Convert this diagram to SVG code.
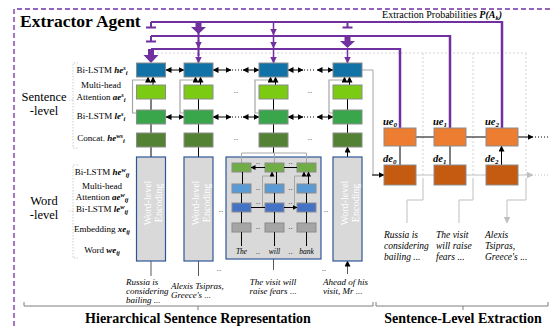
<svg xmlns="http://www.w3.org/2000/svg" width="550" height="326" viewBox="0 0 550 326">
<defs>
<marker id="ah" markerUnits="userSpaceOnUse" markerWidth="6" markerHeight="6" refX="5.5" refY="3" orient="auto-start-reverse"><path d="M0,0 L6,3 L0,6 z" fill="#000"/></marker>
<marker id="ahs" markerUnits="userSpaceOnUse" markerWidth="5" markerHeight="5" refX="4.5" refY="2.5" orient="auto-start-reverse"><path d="M0,0 L5,2.5 L0,5 z" fill="#000"/></marker>
<marker id="ahg" markerUnits="userSpaceOnUse" markerWidth="7" markerHeight="7" refX="6.5" refY="3.5" orient="auto-start-reverse"><path d="M0,0 L7,3.5 L0,7 z" fill="#bfbfbf"/></marker>
<marker id="ahp" markerUnits="userSpaceOnUse" markerWidth="7" markerHeight="7" refX="6.5" refY="3.5" orient="auto"><path d="M0,0 L7,3.5 L0,7 z" fill="#7030a0"/></marker>
</defs>
<style>
text{font-family:"Liberation Serif","Times New Roman",serif;fill:#000}
.lbl{font-size:9px;text-anchor:middle}
.bi{font-weight:bold;font-style:italic}
.sup{font-size:6.5px;font-weight:bold;font-style:italic}
.it{font-style:italic}
.in{font-size:9px;font-style:italic}
.dots{font-size:9px;text-anchor:middle;fill:#333}
.box{stroke:#8c8c8c;stroke-width:1}
.bl{fill:#1072a6}
.lg{fill:#7acb12}
.mg{fill:#3aa64c}
.dg{fill:#548235}
.or{fill:#ed7d31}
.dor{fill:#c55a11}
.wb{fill:#d9d9d9;stroke:#2f5597;stroke-width:1.2}
.wg{fill:#70ad47}
.wlb{fill:#5b9bd5}
.wbl{fill:#4472c4}
.wgr{fill:#a5a5a5}
.ar{stroke:#000;stroke-width:1;fill:none;marker-end:url(#ah)}
.ars{stroke:#000;stroke-width:1;fill:none;marker-end:url(#ahs)}
.ba{stroke:#000;stroke-width:1;fill:none;marker-start:url(#ah);marker-end:url(#ah)}
.bas{stroke:#000;stroke-width:1;fill:none;marker-start:url(#ahs);marker-end:url(#ahs)}
.res{stroke:#a6a6a6;stroke-width:1.2;fill:none;marker-end:url(#ah)}
.ress{stroke:#a6a6a6;stroke-width:1;fill:none;marker-end:url(#ahs)}
.gl{stroke:#a6a6a6;stroke-width:1;fill:none}
.inar{stroke:#595959;stroke-width:1;fill:none;marker-end:url(#ah)}
.pl{stroke:#7030a0;stroke-width:2;fill:none}
.pv{stroke:#7030a0;stroke-width:2.5;fill:none}
.pa{stroke:#7030a0;stroke-width:1.5;fill:none;marker-end:url(#ahp)}
.pf{fill:#7030a0}
.sep{stroke:#c8c8c8;stroke-width:0.8;stroke-dasharray:2 2;fill:none}
.brk{stroke:#bfbfbf;stroke-width:0.8;stroke-dasharray:1.5 1.5;fill:none}
.dl{stroke:#000;stroke-width:1;stroke-dasharray:1 2;fill:none}
.dlg{stroke:#bfbfbf;stroke-width:1;stroke-dasharray:1 2;fill:none}
.vt{font-size:10px;fill:#fff;text-anchor:middle}
.out{font-size:9.5px;font-style:italic}
</style>

<!-- outer frame -->
<path d="M14,326 V9 H550" fill="none" stroke="#7030a0" stroke-width="1.3" stroke-dasharray="5 3"/>
<text x="20" y="27" font-size="17.5" font-weight="bold">Extractor Agent</text>

<!-- separators -->
<g id="separators">
<path class="sep" d="M157,53 H526 M423,53 V175 M473,53 V175 M526,53 V175"/>
<path class="brk" d="M78,63 H73 V148 H78 M73,100 H69"/>
<path class="brk" d="M78,165 H73 V258 H78 M73,211 H69"/>
</g>

<!-- side labels -->
<g id="level-labels">
<text x="44" y="101" font-size="12.5" text-anchor="middle">Sentence</text>
<text x="44" y="115" font-size="12.5" text-anchor="middle">-level</text>
<text x="44" y="205" font-size="12.5" text-anchor="middle">Word</text>
<text x="44" y="219" font-size="12.5" text-anchor="middle">-level</text>
</g>

<g id="row-labels">
<text class="lbl" x="102" y="73">Bi-LSTM <tspan class="bi">he</tspan><tspan class="sup" dy="-3">s</tspan><tspan class="sup" dy="5">i</tspan></text>
<text class="lbl" x="101" y="88">Multi-head</text>
<text class="lbl" x="101" y="99.5">Attention <tspan class="bi">ae</tspan><tspan class="sup" dy="-3">s</tspan><tspan class="sup" dy="5">i</tspan></text>
<text class="lbl" x="101" y="119">Bi-LSTM <tspan class="bi">le</tspan><tspan class="sup" dy="-3">s</tspan><tspan class="sup" dy="5">i</tspan></text>
<text class="lbl" x="101" y="141">Concat. <tspan class="bi">he</tspan><tspan class="sup" dy="-3">ws</tspan><tspan class="sup" dy="5">i</tspan></text>
<text class="lbl" x="102" y="175">Bi-LSTM <tspan class="bi">he</tspan><tspan class="sup" dy="-3">w</tspan><tspan class="sup" dy="5">ij</tspan></text>
<text class="lbl" x="102" y="189">Multi-head</text>
<text class="lbl" x="102" y="200">Attention <tspan class="bi">ae</tspan><tspan class="sup" dy="-3">w</tspan><tspan class="sup" dy="5">ij</tspan></text>
<text class="lbl" x="102" y="212">Bi-LSTM <tspan class="bi">le</tspan><tspan class="sup" dy="-3">w</tspan><tspan class="sup" dy="5">ij</tspan></text>
<text class="lbl" x="102" y="232">Embedding <tspan class="bi">xe</tspan><tspan class="sup" dy="2">ij</tspan></text>
<text class="lbl" x="102" y="253">Word <tspan class="bi">we</tspan><tspan class="sup" dy="2">ij</tspan></text>
</g>

<!-- purple extraction lines -->
<g id="extraction-lines">
<text x="502" y="18" font-size="10" text-anchor="end">Extraction Probabilities <tspan class="bi">P(A</tspan><tspan class="sup" dy="2">k</tspan><tspan class="bi" dy="-2">)</tspan></text>
<path class="pl" d="M151,22 H502"/>
<path class="pl" d="M151,36 H450"/>
<path class="pl" d="M151,49 H400"/>
<path class="pv" d="M502,21 V128 M450,35 V128 M400,48 V128"/>
<!-- c1 -->
<path class="pl" d="M151,22 V27 M146,27.5 H156 M151,36 V41 M146,41.5 H156"/>
<polygon class="pf" points="148,49 154,49 154,55 158.5,55 151,63 143.5,55 148,55"/>
<!-- c2 -->
<path class="pl" d="M198.5,22 V56" stroke-width="1.5"/>
<polygon class="pf" points="195.5,22 201.5,22 201.5,27 206,27 198.5,34 191,27 195.5,27"/>
<path class="pa" d="M198.5,40 V48"/>
<path class="pa" d="M198.5,53 V63"/>
<!-- c3 -->
<path class="pa" d="M273.5,22 V35"/>
<path class="pa" d="M273.5,36 V48"/>
<path class="pa" d="M273.5,49 V63"/>
<!-- c4 -->
<path class="pl" d="M347.5,22 V27 M342.5,27.5 H352.5"/>
<polygon class="pf" points="344.5,36 350.5,36 350.5,41 355,41 347.5,48 340,41 344.5,41"/>
<path class="pa" d="M347.5,49 V63"/>
</g>

<!-- connectors -->
<g id="connectors">
<path class="ar" d="M151,133 V124 M151,110 V99 M153,85 V77"/>
<path class="res" d="M136.5,113 H132.5 V80 H148 V77"/>
<path class="ar" d="M198.5,133 V124 M198.5,110 V99 M200.5,85 V77"/>
<path class="res" d="M184,113 H180 V80 H195.5 V77"/>
<path class="ar" d="M273.5,133 V124 M273.5,110 V99 M275.5,85 V77"/>
<path class="res" d="M259,113 H255 V80 H270.5 V77"/>
<path class="ar" d="M347.5,133 V124 M347.5,110 V99 M349.5,85 V77"/>
<path class="res" d="M333,113 H329 V80 H344.5 V77"/>
<path class="ar" d="M151,157 V147 M198.5,157 V147 M273.5,153 V147 M347.5,157 V147"/>
<path class="ba" d="M166,70 H184"/>
<path class="ba" d="M213,70 H231"/>
<path class="dl" d="M232,70 H243"/>
<path class="ba" d="M243,70 H259"/>
<path class="ba" d="M288,70 H303"/>
<path class="dl" d="M304,70 H316"/>
<path class="ba" d="M317,70 H333"/>
<path class="ba" d="M166,117 H184"/>
<path class="ba" d="M213,117 H231"/>
<path class="dl" d="M232,117 H243"/>
<path class="ba" d="M243,117 H259"/>
<path class="ba" d="M288,117 H303"/>
<path class="dl" d="M304,117 H316"/>
<path class="ba" d="M317,117 H333"/>
<path class="inar" d="M151,276 V261 M198.5,276 V261 M273.5,270 V259 M347.5,274 V261"/>
<path class="gl" d="M362,70 H373 V175 H378"/>
<path class="ar" d="M372,175 H384"/>
<path class="ar" d="M416,137 H434 M466,137 H486 M517,137 H533"/>
<path class="dl" d="M535,137 H549"/>
<path class="ar" d="M400,165 V146 M450,165 V146 M501.5,165 V146"/>
<path d="M416,175 H434 M466,175 H486 M517,175 H533" stroke="#bfbfbf" stroke-width="1" marker-end="url(#ahg)" fill="none"/>
<path class="dlg" d="M535,175 H549"/>
<path d="M423,178 V200 H407 V223 M473,178 V200 H459 V223 M526,178 V200 H507 V223" stroke="#bfbfbf" stroke-width="1" fill="none" marker-end="url(#ahg)"/>
</g>

<g id="s-col1">
<rect class="box bl" x="136.5" y="63" width="29" height="14"/>
<rect class="box lg" x="136.5" y="85" width="29" height="14"/>
<rect class="box mg" x="136.5" y="110" width="29" height="14"/>
<rect class="box dg" x="136.5" y="133" width="29" height="14"/>
</g>
<g id="s-col2">
<rect class="box bl" x="184" y="63" width="29" height="14"/>
<rect class="box lg" x="184" y="85" width="29" height="14"/>
<rect class="box mg" x="184" y="110" width="29" height="14"/>
<rect class="box dg" x="184" y="133" width="29" height="14"/>
</g>
<g id="s-col3">
<rect class="box bl" x="259" y="63" width="29" height="14"/>
<rect class="box lg" x="259" y="85" width="29" height="14"/>
<rect class="box mg" x="259" y="110" width="29" height="14"/>
<rect class="box dg" x="259" y="133" width="29" height="14"/>
</g>
<g id="s-col4">
<rect class="box bl" x="333" y="63" width="29" height="14"/>
<rect class="box lg" x="333" y="85" width="29" height="14"/>
<rect class="box mg" x="333" y="110" width="29" height="14"/>
<rect class="box dg" x="333" y="133" width="29" height="14"/>
</g>
<g id="s-dots">
<text class="dots" x="236" y="93">..</text>
<text class="dots" x="236" y="140">..</text>
<text class="dots" x="310" y="93">..</text>
<text class="dots" x="310" y="140">..</text>
</g>

<g id="w-enc1">
<rect class="wb" x="136.5" y="157" width="29" height="104"/>
<text class="vt" transform="translate(151,203) rotate(-90)">Word-level</text>
<text class="vt" transform="translate(162,203) rotate(-90)">Encoding</text>
</g>
<g id="w-enc2">
<rect class="wb" x="184" y="157" width="29" height="104"/>
<text class="vt" transform="translate(198.5,203) rotate(-90)">Word-level</text>
<text class="vt" transform="translate(209.5,203) rotate(-90)">Encoding</text>
</g>
<g id="w-enc4">
<rect class="wb" x="333" y="157" width="29" height="104"/>
<text class="vt" transform="translate(347.5,203) rotate(-90)">Word-level</text>
<text class="vt" transform="translate(358.5,203) rotate(-90)">Encoding</text>
</g>
<g id="w-enc3">
<rect class="wb" x="226" y="157" width="95" height="102"/>
<path class="gl" d="M241.5,163 V153 H306.5 V163 M274.5,163 V153"/>
<rect class="box wg" x="232" y="163" width="19" height="9"/>
<rect class="box wg" x="265" y="163" width="19" height="9"/>
<rect class="box wg" x="297" y="163" width="19" height="9"/>
<rect class="box wlb" x="232" y="184" width="19" height="9"/>
<rect class="box wlb" x="265" y="184" width="19" height="9"/>
<rect class="box wlb" x="297" y="184" width="19" height="9"/>
<rect class="box wbl" x="232" y="203" width="19" height="9"/>
<rect class="box wbl" x="265" y="203" width="19" height="9"/>
<rect class="box wbl" x="297" y="203" width="19" height="9"/>
<rect class="box wgr" x="232" y="223" width="19" height="9"/>
<rect class="box wgr" x="265" y="223" width="19" height="9"/>
<rect class="box wgr" x="297" y="223" width="19" height="9"/>
<path class="ars" d="M241.5,246 V232 M274.5,246 V232 M306.5,246 V232 M241.5,223 V212 M274.5,223 V212 M306.5,223 V212 M241.5,203 V193 M274.5,203 V193 M306.5,203 V193 M242.5,184 V172 M276.5,184 V172 M308.5,184 V172"/>
<path class="ress" d="M265,207 H262.5 V176 H272 V172"/>
<path class="ress" d="M297,207 H294.5 V176 H304 V172"/>
<path class="bas" d="M251,167.5 H265 M284,167.5 H297 M251,207.5 H265 M284,207.5 H297"/>
<text class="dots" x="258" y="164" font-size="7">..</text>
<text class="dots" x="290.5" y="164" font-size="7">..</text>
<text class="dots" x="258" y="204" font-size="7">..</text>
<text class="dots" x="290.5" y="204" font-size="7">..</text>
<text class="dots" x="258" y="190">..</text>
<text class="dots" x="290.5" y="190">..</text>
<text class="dots" x="258" y="229">..</text>
<text class="dots" x="290.5" y="229">..</text>
<text x="241.5" y="254" font-size="7.5" class="it" text-anchor="middle">The</text>
<text class="dots" x="258" y="254">..</text>
<text x="274.5" y="254" font-size="7.5" class="it" text-anchor="middle">will</text>
<text class="dots" x="290.5" y="254">..</text>
<text x="306.5" y="254" font-size="7.5" class="it" text-anchor="middle">bank</text>
</g>
<g id="w-dots">
<text class="dots" x="221" y="212">..</text>
<text class="dots" x="326" y="212">..</text>
<text class="dots" x="219" y="271">..</text>
<text class="dots" x="324" y="271">..</text>
</g>

<g id="inputs">
<text class="in" x="126" y="285">Russia is</text>
<text class="in" x="126" y="294">considering</text>
<text class="in" x="126" y="303">bailing ...</text>
<text class="in" x="171" y="289">Alexis Tsipras,</text>
<text class="in" x="171" y="298">Greece's ...</text>
<text class="in" x="273" y="285" text-anchor="middle">The visit will</text>
<text class="in" x="273" y="294" text-anchor="middle">raise fears ...</text>
<text class="in" x="323" y="285">Ahead of his</text>
<text class="in" x="323" y="294">visit, Mr ...</text>
</g>

<g id="step0">
<rect class="box or" x="384" y="128" width="32" height="18"/>
<rect class="box dor" x="384" y="165" width="32" height="20"/>
<text x="383" y="125" font-size="10.5" class="bi">ue<tspan font-size="7" dy="2">0</tspan></text>
<text x="383" y="162" font-size="10.5" class="bi">de<tspan font-size="7" dy="2">0</tspan></text>
</g>
<g id="step1">
<rect class="box or" x="434" y="128" width="32" height="18"/>
<rect class="box dor" x="434" y="165" width="32" height="20"/>
<text x="433" y="125" font-size="10.5" class="bi">ue<tspan font-size="7" dy="2">1</tspan></text>
<text x="433" y="162" font-size="10.5" class="bi">de<tspan font-size="7" dy="2">1</tspan></text>
</g>
<g id="step2">
<rect class="box or" x="486" y="128" width="32" height="18"/>
<rect class="box dor" x="486" y="165" width="32" height="20"/>
<text x="485" y="125" font-size="10.5" class="bi">ue<tspan font-size="7" dy="2">2</tspan></text>
<text x="485" y="162" font-size="10.5" class="bi">de<tspan font-size="7" dy="2">2</tspan></text>
</g>

<g id="outputs">
<text class="out" x="384" y="238">Russia is</text>
<text class="out" x="384" y="249">considering</text>
<text class="out" x="384" y="260">bailing ...</text>
<text class="out" x="436" y="238">The visit</text>
<text class="out" x="436" y="249">will raise</text>
<text class="out" x="436" y="260">fears ...</text>
<text class="out" x="485" y="238">Alexis</text>
<text class="out" x="485" y="249">Tsipras,</text>
<text class="out" x="485" y="260">Greece's ...</text>
</g>

<g id="sections">
<path d="M24,302 V306 H373 V302 M198,306 V310" stroke="#7f7f7f" stroke-width="1" fill="none"/>
<path d="M376,302 V306 H548 V302 M463,306 V310" stroke="#7f7f7f" stroke-width="1" fill="none"/>
<text x="198" y="323" font-size="14" font-weight="bold" text-anchor="middle">Hierarchical Sentence Representation</text>
<text x="463" y="323" font-size="14" font-weight="bold" text-anchor="middle">Sentence-Level Extraction</text>
</g>
</svg>
